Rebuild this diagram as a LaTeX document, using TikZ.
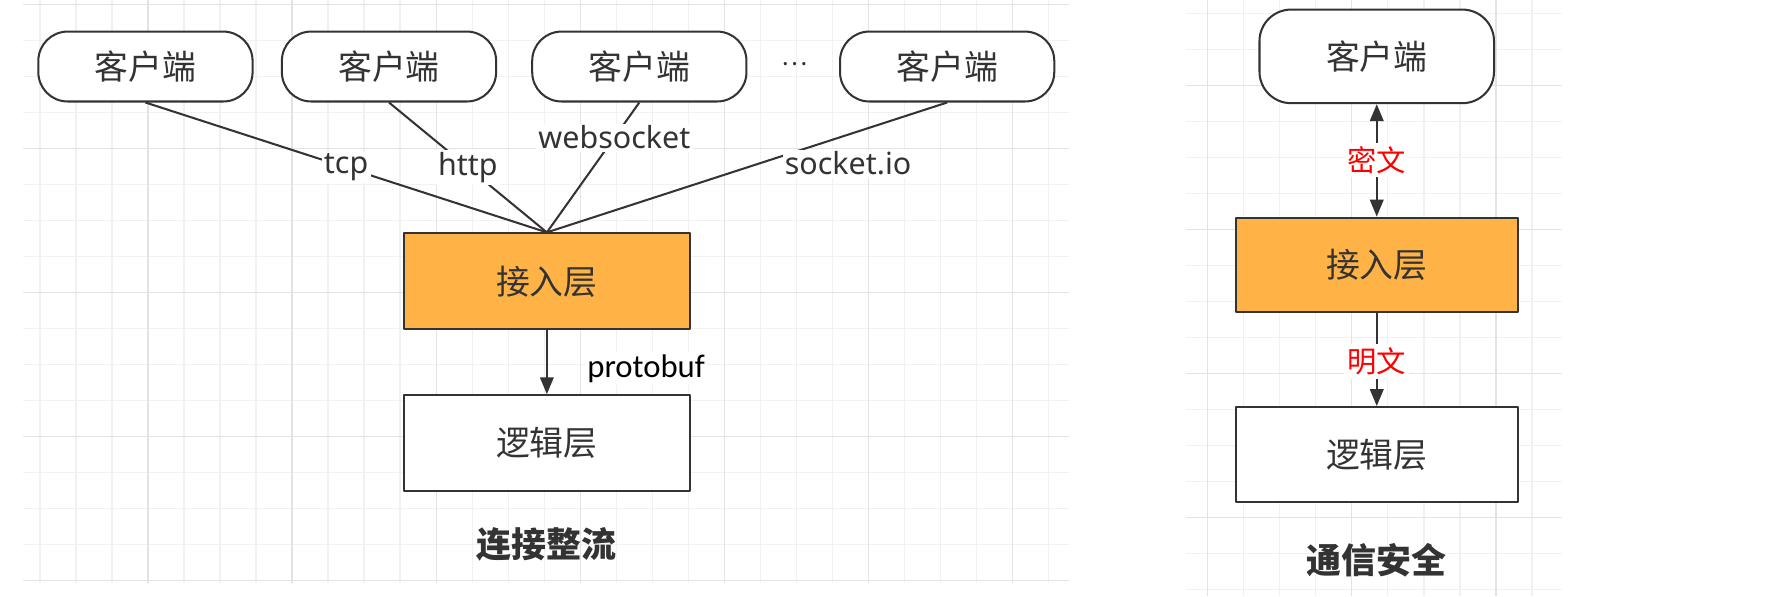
\documentclass[tikz,border=0pt]{standalone}
\usepackage{fontspec}
\setmainfont{Noto Sans}
\newfontfamily\cjk{Noto Sans CJK SC}
\newfontfamily\cali{Carlito}
\usetikzlibrary{arrows.meta,positioning}
\definecolor{ink}{HTML}{333333}
\definecolor{accorange}{HTML}{FFB347}
\definecolor{gridmin}{HTML}{F1F1F1}
\definecolor{gridmaj}{HTML}{E3E3E3}
\begin{document}
\begin{tikzpicture}[x=1pt, y=-1pt, line join=round, >={Triangle[length=15pt,width=12pt]},
    client/.style={draw=ink, line width=1.8pt, fill=white, rounded corners=26pt, minimum width=190pt, minimum height=62pt, text=ink, font=\cjk\fontsize{30}{30}\selectfont},
    layer/.style={draw=ink, line width=1.8pt, fill=white, minimum width=254pt, minimum height=85pt, text=ink, font=\cjk\fontsize{30}{30}\selectfont},
    link/.style={draw=ink, line width=1.8pt},
    proto/.style={fill=white, inner sep=2pt, text=ink, font=\fontsize{27}{27}\selectfont},
    cipher/.style={fill=white, inner sep=3pt, text=red, font=\cjk\fontsize{26}{26}\selectfont},
    caption/.style={text=ink, font=\cjk\bfseries\fontsize{31}{31}\selectfont}]
    \useasboundingbox[fill=white] (0,0) rectangle (1568,528.6);
    \def\gs{31.93}
    % grids
    \begin{scope}
        \clip (20.6,0) rectangle (948,517);
        \foreach \i in {-11,...,19}
            \draw[gridmin, line width=1pt] (354.8+\i*\gs,0) -- (354.8+\i*\gs,517);
        \foreach \j in {-10,...,8}
            \draw[gridmin, line width=1pt] (20,291+\j*\gs) -- (948,291+\j*\gs);
        \foreach \i in {-11,-7,...,19}
            \draw[gridmaj, line width=1pt] (354.8+\i*\gs,0) -- (354.8+\i*\gs,517);
        \foreach \j in {-9,-5,...,8}
            \draw[gridmaj, line width=1pt] (20,291+\j*\gs) -- (948,291+\j*\gs);
    \end{scope}
    \begin{scope}
        \clip (1052,0) rectangle (1385,528.6);
        \foreach \i in {-10,...,2}
            \draw[gridmin, line width=1pt] (1326.7+\i*\gs,0) -- (1326.7+\i*\gs,528.6);
        \foreach \j in {-1,...,17}
            \draw[gridmin, line width=1pt] (1052,11.8+\j*\gs) -- (1385,11.8+\j*\gs);
        \foreach \i in {-8,-4,0}
            \draw[gridmaj, line width=1pt] (1326.7+\i*\gs,0) -- (1326.7+\i*\gs,528.6);
        \foreach \j in {2,6,...,17}
            \draw[gridmaj, line width=1pt] (1052,11.8+\j*\gs) -- (1385,11.8+\j*\gs);
    \end{scope}
    % left: 连接整流
    \node[client] (c1) at (129,59) {客户端};
    \node[client] (c2) at (345,59) {客户端};
    \node[client] (c3) at (567,59) {客户端};
    \node[client] (c4) at (840,59) {客户端};
    \node[text=ink, font=\cjk\fontsize{22}{22}\selectfont] (dots) at (705,57) {…};
    \node[layer, fill=accorange] (ac) at (485,249.5) {接入层};
    \node[layer] (lg) at (485,393) {逻辑层};
    \node[caption] (t1) at (485,483) {连接整流};
    \draw[link] (c1.south) -- (ac.north) node[proto, pos=.5] {tcp};
    \draw[link] (c2.south) -- (ac.north) node[proto, pos=.5] {http};
    \draw[link] (c3.south) -- (ac.north) node[proto, pos=.27] {websocket};
    \draw[link] (c4.south) -- (ac.north) node[proto, pos=.47, xshift=79pt] {socket.io};
    \draw[link, ->] (ac) -- (lg) node[proto, pos=.6, anchor=west, xshift=33pt, font=\cali\fontsize{29}{29}\selectfont, text=black] {protobuf};
    % right: 通信安全
    \node[client, minimum width=208pt, minimum height=83pt, rounded corners=28pt] (rc) at (1221,50) {客户端};
    \node[layer, fill=accorange, minimum width=250pt, minimum height=84pt] (rac) at (1221,235) {接入层};
    \node[layer, minimum width=250pt, minimum height=84pt] (rlg) at (1221,403) {逻辑层};
    \node[caption] (t2) at (1221,497) {通信安全};
    \draw[link, <->] (rc) -- (rac) node[cipher, midway] {密文};
    \draw[link, ->] (rac) -- (rlg) node[cipher, pos=.52] {明文};
\end{tikzpicture}
\end{document}
